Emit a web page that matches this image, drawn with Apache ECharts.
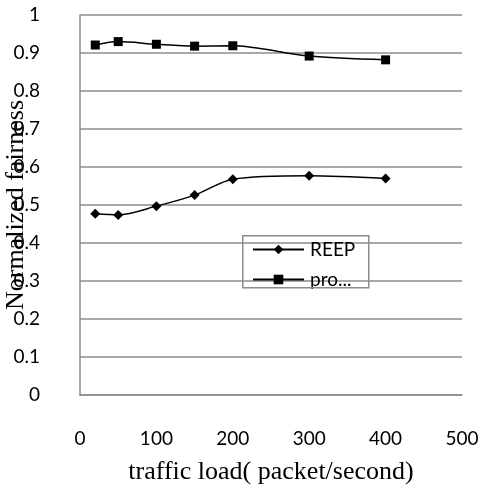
<!DOCTYPE html>
<html><head><meta charset="utf-8">
<script src="https://cdn.jsdelivr.net/npm/echarts@6/dist/echarts.min.js"></script>
<style>html,body{margin:0;padding:0;background:#fff}#c{width:482px;height:488px}</style>
</head><body><div id="c"></div>
<script>
const xValues = [20, 50, 100, 150, 200, 300, 400];
const reep = [0.477, 0.474, 0.497, 0.526, 0.568, 0.577, 0.570];
const proposed = [0.921, 0.930, 0.923, 0.918, 0.919, 0.892, 0.882];
const seriesNames = ['REEP', 'pro...'];
const xTitle = 'traffic load( packet/second)';
const yTitle = 'Normalized fairness';

const chart = echarts.init(document.getElementById('c'));
const lab = {fontFamily: 'Lato', fontSize: 19, color: '#000'};
chart.setOption({
  animation: false,
  grid: {left: 80, right: 20, top: 15, bottom: 93, outerBoundsMode: 'none', containLabel: false},
  graphic: [{
    type: 'rect', left: 242, top: 235, z: 10,
    shape: {width: 126, height: 52},
    style: {fill: 'rgba(0,0,0,0)', stroke: '#8c8c8c', lineWidth: 1.5}
  }],
  legend: {
    left: 252, top: 240,
    orient: 'vertical',
    padding: 0,
    itemGap: 11, itemWidth: 51, itemHeight: 12,
    textStyle: {fontFamily: 'Lato', fontSize: 19, color: '#000', padding: [0,0,0,1]},
    data: seriesNames
  },
  xAxis: {
    type: 'value', min: 0, max: 500, interval: 100,
    name: xTitle, nameLocation: 'middle', nameGap: 64, nameMoveOverlap: false,
    nameTextStyle: {fontFamily: 'Liberation Serif', fontSize: 26, color: '#000'},
    axisLine: {show: true, lineStyle: {color: '#8c8c8c', width: 1.5}},
    axisTick: {show: false},
    splitLine: {show: false},
    axisLabel: Object.assign({margin: 34}, lab)
  },
  yAxis: {
    type: 'value', min: 0, max: 1, interval: 0.1,
    name: yTitle, nameLocation: 'middle', nameGap: 51, nameMoveOverlap: false,
    nameTextStyle: {fontFamily: 'Liberation Serif', fontSize: 26, color: '#000'},
    axisLine: {show: true, lineStyle: {color: '#8c8c8c', width: 1.5}},
    axisTick: {show: false},
    splitLine: {show: true, lineStyle: {color: '#8c8c8c', width: 1.5}},
    axisLabel: Object.assign({margin: 40, formatter: v => String(Math.round(v*10)/10)}, lab)
  },
  series: [
    {name: seriesNames[0], type: 'line', smooth: 0.3,
     data: xValues.map((x, i) => [x, reep[i]]),
     symbol: 'diamond', symbolSize: 10,
     lineStyle: {color: '#000', width: 1.5}, itemStyle: {color: '#000'}},
    {name: seriesNames[1], type: 'line', smooth: 0.3,
     data: xValues.map((x, i) => [x, proposed[i]]),
     symbol: 'rect', symbolSize: 9,
     lineStyle: {color: '#000', width: 1.5}, itemStyle: {color: '#000'}}
  ]
});
</script></body></html>
